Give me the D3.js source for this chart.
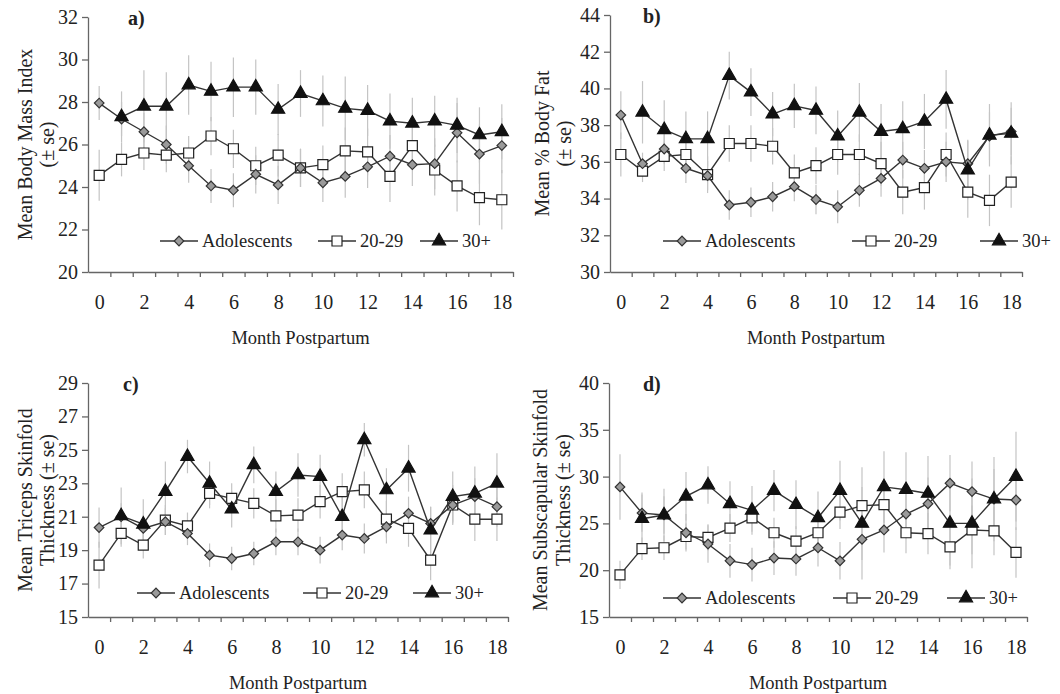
<!DOCTYPE html>
<html>
<head>
<meta charset="utf-8">
<script src="https://cdn.jsdelivr.net/npm/d3@7"></script>
<style>
  body { margin: 0; background: #fff; }
  text { font-family: "Liberation Serif", "DejaVu Serif", serif; fill: #222; }
</style>
</head>
<body>
<div id="chart"></div>
<script>
// months postpartum
var months = d3.range(0, 19);
var tickMonths = [0, 2, 4, 6, 8, 10, 12, 14, 16, 18];

// a) body mass index
var bmiAdol = [27.95, 27.2, 26.6, 26.0, 25.0, 24.05, 23.85, 24.6, 24.1, 24.9, 24.2, 24.5, 24.95, 25.45, 25.05, 25.1, 26.55, 25.55, 25.95];
var bmi2029 = [24.55, 25.3, 25.6, 25.5, 25.6, 26.4, 25.8, 25.0, 25.5, 24.9, 25.05, 25.7, 25.65, 24.5, 25.95, 24.8, 24.05, 23.5, 23.4];
var bmi30 = [null, 27.3, 27.8, 27.8, 28.8, 28.5, 28.7, 28.7, 27.65, 28.4, 28.05, 27.7, 27.6, 27.1, 27.0, 27.1, 26.9, 26.45, 26.6];
var bmiAdolSe = [0.8, 0.8, 0.9, 0.9, 0.8, 0.8, 0.8, 0.9, 0.9, 0.9, 0.9, 1.0, 1.0, 1.0, 1.0, 1.2, 1.4, 1.4, 1.3];
var bmi2029Se = [1.2, 0.8, 0.8, 0.8, 0.8, 0.9, 0.9, 0.9, 1.0, 0.9, 0.9, 1.1, 1.1, 1.2, 1.1, 1.2, 1.2, 1.3, 1.4];
var bmi30Se = [null, 1.2, 1.7, 1.6, 1.4, 1.4, 1.4, 1.3, 1.2, 1.1, 1.2, 1.5, 1.2, 1.3, 1.2, 1.2, 1.3, 1.3, 1.3];

// b) % body fat
var fatAdol = [38.55, 35.9, 36.7, 35.65, 35.25, 33.65, 33.8, 34.1, 34.65, 33.95, 33.55, 34.45, 35.1, 36.1, 35.65, 36.0, 35.9, 37.4, 37.65];
var fat2029 = [36.4, 35.5, 36.3, 36.4, 35.3, 37.0, 37.0, 36.85, 35.4, 35.8, 36.4, 36.4, 35.9, 34.35, 34.6, 36.4, 34.35, 33.9, 34.9];
var fat30 = [null, 38.7, 37.75, 37.25, 37.25, 40.7, 39.8, 38.6, 39.05, 38.8, 37.4, 38.7, 37.65, 37.8, 38.2, 39.4, 35.55, 37.45, 37.55];
var fatAdolSe = [1.3, 0.6, 0.8, 0.8, 0.8, 0.8, 0.8, 0.8, 0.8, 0.8, 0.9, 0.9, 1.0, 1.0, 1.0, 1.1, 1.3, 1.3, 1.3];
var fat2029Se = [1.2, 0.6, 0.8, 0.8, 1.0, 1.0, 1.0, 1.0, 1.0, 1.0, 1.1, 1.1, 1.2, 1.2, 1.2, 1.2, 1.4, 1.4, 1.4];
var fat30Se = [null, 1.7, 1.6, 1.5, 1.5, 1.3, 1.3, 1.2, 1.2, 1.3, 1.4, 1.6, 1.5, 1.5, 1.5, 1.6, 1.6, 1.7, 1.7];

// c) triceps skinfold
var triAdol = [20.35, 21.0, 20.3, 20.7, 20.0, 18.7, 18.5, 18.8, 19.5, 19.5, 19.0, 19.9, 19.7, 20.4, 21.2, 20.6, 21.7, 22.2, 21.6];
var tri2029 = [18.1, 20.0, 19.3, 20.8, 20.45, 22.4, 22.1, 21.8, 21.05, 21.1, 21.9, 22.5, 22.6, 20.85, 20.3, 18.4, 21.7, 20.85, 20.85];
var tri30 = [null, 21.05, 20.55, 22.5, 24.6, 23.0, 21.45, 24.1, 22.5, 23.5, 23.4, 21.0, 25.6, 22.6, 23.9, 20.2, 22.2, 22.4, 23.0];
var triAdolSe = [1.2, 0.8, 0.8, 0.8, 0.7, 0.7, 0.7, 0.7, 0.8, 0.8, 0.8, 0.9, 0.9, 1.0, 1.0, 1.0, 1.1, 1.1, 1.2];
var tri2029Se = [1.4, 0.8, 0.8, 0.9, 0.8, 0.9, 0.9, 0.9, 1.0, 1.0, 1.0, 1.1, 1.1, 1.1, 1.1, 1.2, 1.2, 1.3, 1.3];
var tri30Se = [null, 1.7, 1.5, 1.8, 1.0, 1.3, 1.1, 1.1, 1.2, 1.3, 1.3, 1.4, 1.0, 1.3, 1.4, 1.4, 1.5, 1.6, 1.8];

// d) subscapular skinfold
var subAdol = [28.9, 26.1, 25.9, 24.0, 22.8, 21.0, 20.6, 21.3, 21.2, 22.4, 21.0, 23.3, 24.3, 26.0, 27.1, 29.3, 28.4, 27.6, 27.5];
var sub2029 = [19.5, 22.3, 22.4, 23.6, 23.5, 24.5, 25.6, 24.0, 23.1, 24.0, 26.2, 26.9, 27.0, 24.0, 23.9, 22.5, 24.3, 24.2, 21.9];
var sub30 = [null, 25.5, 25.9, 27.9, 29.1, 27.1, 26.4, 28.5, 27.0, 25.6, 28.5, 25.0, 28.9, 28.6, 28.2, 25.0, 25.0, 27.6, 30.0];
var subAdolSe = [3.5, 2.0, 2.0, 2.0, 2.0, 1.8, 1.8, 1.8, 1.8, 2.0, 2.0, 2.2, 2.4, 2.6, 2.8, 3.0, 3.2, 3.2, 3.2];
var sub2029Se = [1.5, 1.2, 1.3, 1.4, 1.4, 1.5, 1.5, 1.6, 1.6, 1.7, 1.8, 2.0, 2.0, 2.2, 2.2, 2.4, 2.6, 2.6, 2.7];
var sub30Se = [null, 2.8, 2.8, 2.6, 2.0, 2.4, 2.6, 2.2, 2.6, 2.8, 3.2, 6.0, 3.8, 4.0, 4.0, 4.5, 4.8, 4.5, 4.8];

var seriesNames = ["Adolescents", "20-29", "30+"];

var svgWidth = 1060;
var svgHeight = 694;

var svg = d3.select("#chart")
  .append("svg")
  .attr("width", svgWidth)
  .attr("height", svgHeight);

// panel layouts (pixel boxes), data attached from the arrays above
var panels = [
  { label: "a)", x0: 88, x1: 513, y0: 272, y1: 17, domain: [20, 32], step: 2,
    yTitle: ["Mean Body Mass Index", "(\u00b1 se)"], titleX: [25, 47], titleY: 338, legY: 241,
    leg: [160, 318, 420], labX: 128,
    values: [bmiAdol, bmi2029, bmi30], se: [bmiAdolSe, bmi2029Se, bmi30Se] },
  { label: "b)", x0: 610, x1: 1022, y0: 272, y1: 15, domain: [30, 44], step: 2,
    yTitle: ["Mean % Body Fat", "(\u00b1 se)"], titleX: [542, 564], titleY: 338, legY: 241,
    leg: [663, 852, 980], labX: 643,
    values: [fatAdol, fat2029, fat30], se: [fatAdolSe, fat2029Se, fat30Se] },
  { label: "c)", x0: 88, x1: 508, y0: 617, y1: 383, domain: [15, 29], step: 2,
    yTitle: ["Mean Triceps Skinfold", "Thickness (\u00b1 se)"], titleX: [25, 47], titleY: 683, legY: 593,
    leg: [137, 303, 413], labX: 123,
    values: [triAdol, tri2029, tri30], se: [triAdolSe, tri2029Se, tri30Se] },
  { label: "d)", x0: 609, x1: 1027, y0: 617, y1: 383, domain: [15, 40], step: 5,
    yTitle: ["Mean Subscapular Skinfold", "Thickness (\u00b1 se)"], titleX: [540, 563], titleY: 683, legY: 598,
    leg: [663, 833, 947], labX: 643,
    values: [subAdol, sub2029, sub30], se: [subAdolSe, sub2029Se, sub30Se] }
];

// marker per series
var markers = [
  { type: d3.symbolSquare, size: 46, rotate: 45, fill: "#9a9a9a", stroke: "#333" },
  { type: d3.symbolSquare, size: 100, rotate: 0, fill: "#fff", stroke: "#222" },
  { type: d3.symbolTriangle, size: 75, rotate: 0, fill: "#111", stroke: "#111" }
];

function drawMarker(g, m, x, y) {
  g.append("path")
    .attr("d", d3.symbol().type(m.type).size(m.size))
    .attr("transform", `translate(${x},${y}) rotate(${m.rotate})`)
    .attr("fill", m.fill)
    .attr("stroke", m.stroke)
    .attr("stroke-width", 1.2);
}

panels.forEach(function(p) {
  var x = d3.scaleLinear().domain([-0.5, 18.5]).range([p.x0, p.x1]);
  var y = d3.scaleLinear().domain(p.domain).range([p.y0, p.y1]);
  var g = svg.append("g");

  // error bars first, under everything
  p.values.forEach(function(vals, si) {
    g.append("g").selectAll("line")
      .data(months.filter(function(m) { return vals[m] != null; }))
      .enter().append("line")
      .attr("x1", function(m) { return x(m); })
      .attr("x2", function(m) { return x(m); })
      .attr("y1", function(m) { return y(vals[m] - p.se[si][m]); })
      .attr("y2", function(m) { return y(vals[m] + p.se[si][m]); })
      .attr("stroke", "#c4c4c4")
      .attr("stroke-width", 1.2);
  });

  // y axis
  g.append("g")
    .attr("transform", `translate(${p.x0},0)`)
    .call(d3.axisLeft(y).tickValues(d3.range(p.domain[0], p.domain[1] + 0.01, p.step))
      .tickSize(6).tickSizeOuter(0).tickPadding(4))
    .call(function(a) {
      a.select(".domain").attr("stroke", "#666").attr("stroke-width", 1.3);
      a.selectAll(".tick line").attr("stroke", "#666").attr("stroke-width", 1.3);
      a.selectAll("text").attr("font-size", "20px").attr("fill", "#222")
        .style("font-family", "Liberation Serif");
    });

  // x axis: tick marks between months, labels on even months
  g.append("g")
    .attr("transform", `translate(0,${p.y0})`)
    .call(d3.axisBottom(x).tickValues(d3.range(0.5, 18.6, 1)).tickFormat("")
      .tickSize(5).tickSizeOuter(0))
    .call(function(a) {
      a.select(".domain").attr("stroke", "#666").attr("stroke-width", 1.3);
      a.selectAll(".tick line").attr("stroke", "#666").attr("stroke-width", 1.3);
    });
  g.append("g")
    .attr("transform", `translate(0,${p.y0})`)
    .call(d3.axisBottom(x).tickValues(tickMonths).tickSize(0).tickPadding(23))
    .call(function(a) {
      a.select(".domain").remove();
      a.selectAll("text").attr("font-size", "20px").attr("fill", "#222")
        .style("font-family", "Liberation Serif");
    });

  // series lines and markers
  var line = d3.line()
    .defined(function(m) { return m.v != null; })
    .x(function(m) { return x(m.m); })
    .y(function(m) { return y(m.v); });

  [1, 0, 2].forEach(function(si) {
    var vals = p.values[si];
    var pts = months.map(function(m) { return { m: m, v: vals[m] }; });
    g.append("path")
      .datum(pts)
      .attr("fill", "none")
      .attr("stroke", "#333")
      .attr("stroke-width", 1.4)
      .attr("d", line);
    pts.filter(function(d) { return d.v != null; }).forEach(function(d) {
      drawMarker(g, markers[si], x(d.m), y(d.v));
    });
  });

  // legend
  seriesNames.forEach(function(name, si) {
    var lx = p.leg[si];
    g.append("line")
      .attr("x1", lx).attr("x2", lx + 38)
      .attr("y1", p.legY).attr("y2", p.legY)
      .attr("stroke", "#333").attr("stroke-width", 1.4);
    drawMarker(g, markers[si], lx + 19, p.legY);
    g.append("text")
      .attr("x", lx + 42)
      .attr("y", p.legY + 6)
      .attr("font-size", "18.5px")
      .text(name);
  });

  // panel letter
  g.append("text")
    .attr("x", p.labX)
    .attr("y", p.y1 + 8)
    .attr("font-size", "20px")
    .attr("font-weight", "bold")
    .text(p.label);

  // axis titles
  var cy = (p.y0 + p.y1) / 2;
  p.yTitle.forEach(function(t, i) {
    g.append("text")
      .attr("transform", `translate(${p.titleX[i] + 7},${cy}) rotate(-90)`)
      .attr("text-anchor", "middle")
      .attr("font-size", "20px")
      .text(t);
  });
  g.append("text")
    .attr("x", (p.x0 + p.x1) / 2)
    .attr("y", p.titleY + 6)
    .attr("text-anchor", "middle")
    .attr("font-size", "18.5px")
    .text("Month Postpartum");
});
</script>
</body>
</html>
